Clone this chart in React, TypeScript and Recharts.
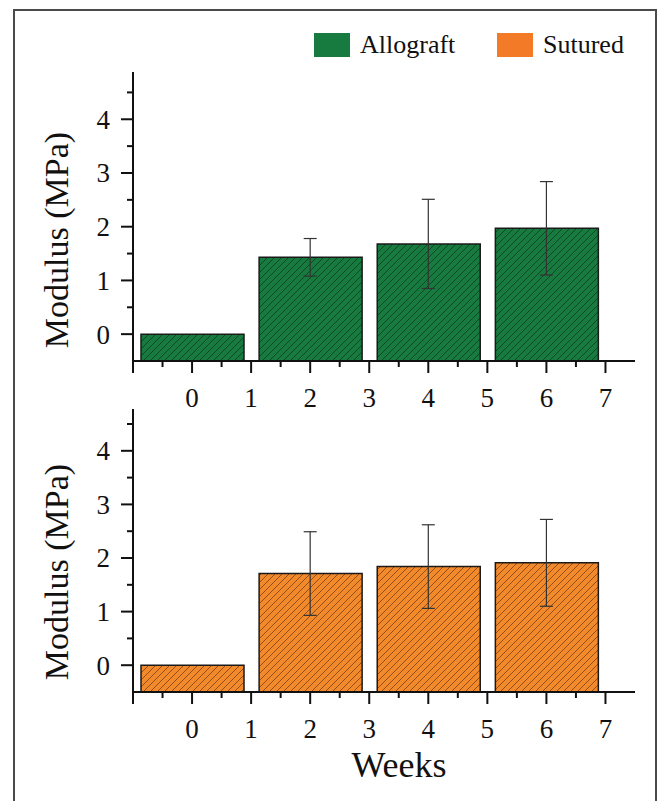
import React from "react";
import { ComposedChart, Bar, Scatter, ErrorBar, XAxis, YAxis } from "recharts";

const weeks = [0, 2, 4, 6];
const allograftMean = [0, 1.43, 1.68, 1.97];
const allograftSd = [0, 0.35, 0.83, 0.87];
const suturedMean = [0, 1.71, 1.84, 1.91];
const suturedSd = [0, 0.78, 0.78, 0.81];

const xTicks = [-1, -0.5, 0, 0.5, 1, 1.5, 2, 2.5, 3, 3.5, 4, 4.5, 5, 5.5, 6, 6.5, 7];
const xLabels = [0, 1, 2, 3, 4, 5, 6, 7];
const yTicks = [0, 0.5, 1, 1.5, 2, 2.5, 3, 3.5, 4, 4.5];
const yLabels = [0, 1, 2, 3, 4];

const Y_MIN = -0.5;
const FONT = "Liberation Serif";
const INK = "#111";

const buildRows = (mean: number[], sd: number[]) =>
  weeks.map((w, i) => ({ week: w, range: [Y_MIN, mean[i]], mean: mean[i], sd: sd[i] }));

const XTick = (props: any) => {
  const { x, y, payload } = props;
  const v = payload.value;
  const major = Number.isInteger(v);
  return (
    <g>
      <line x1={x} x2={x} y1={y} y2={y + (major ? 12 : 6)} stroke={INK} strokeWidth={2} />
      {xLabels.includes(v) && (
        <text x={x} y={y + 37} dy="0.35em" textAnchor="middle" fontSize={27} fontFamily={FONT} fill={INK}>
          {v}
        </text>
      )}
    </g>
  );
};

const YTick = (props: any) => {
  const { x, y, payload } = props;
  const v = payload.value;
  const major = Number.isInteger(v);
  return (
    <g>
      <line x1={x - (major ? 12 : 6)} x2={x} y1={y} y2={y} stroke={INK} strokeWidth={2} />
      {yLabels.includes(v) && (
        <text x={x - 23} y={y} dy="0.35em" textAnchor="end" fontSize={27} fontFamily={FONT} fill={INK}>
          {v}
        </text>
      )}
    </g>
  );
};

type PanelProps = {
  id: string;
  top: number;
  height: number;
  margin: { top: number; right: number; bottom: number; left: number };
  yMax: number;
  mean: number[];
  sd: number[];
  base: string;
  hatch: string;
  topLine: boolean;
};

const Panel = ({ id, top, height, margin, yMax, mean, sd, base, hatch, topLine }: PanelProps) => {
  const rows = buildRows(mean, sd);
  const errRows = rows.filter((r) => r.sd > 0);
  const axisLine = { stroke: INK, strokeWidth: 2 };
  return (
    <div style={{ position: "absolute", left: 0, top }}>
      <ComposedChart width={659} height={height} data={rows} margin={margin}>
        <defs>
          <pattern id={id} patternUnits="userSpaceOnUse" width={7} height={7}>
            <rect width={7} height={7} fill={base} />
            <path d="M0,7 L7,0 M-1,1 L1,-1 M6,8 L8,6" stroke={hatch} strokeWidth={0.8} />
          </pattern>
        </defs>
        <XAxis
          dataKey="week"
          type="number"
          domain={[-1, 7.5]}
          allowDataOverflow
          ticks={xTicks}
          interval={0}
          height={30}
          tickSize={0}
          tickMargin={0}
          tickLine={false}
          axisLine={axisLine}
          tick={(p: any) => <XTick {...p} />}
        />
        {topLine && (
          <XAxis
            xAxisId="top"
            orientation="top"
            type="number"
            domain={[-1, 7.5]}
            height={0}
            tick={false}
            tickLine={false}
            axisLine={axisLine}
          />
        )}
        <YAxis
          type="number"
          domain={[Y_MIN, yMax]}
          allowDataOverflow
          ticks={yTicks}
          interval={0}
          width={60}
          tickSize={0}
          tickMargin={0}
          tickLine={false}
          axisLine={axisLine}
          tick={(p: any) => <YTick {...p} />}
        />
        <YAxis
          yAxisId="right"
          orientation="right"
          type="number"
          domain={[Y_MIN, yMax]}
          width={0}
          tick={false}
          tickLine={false}
          axisLine={axisLine}
        />
        <Bar
          dataKey="range"
          barSize={103}
          fill={`url(#${id})`}
          stroke="#1a1a1a"
          strokeWidth={1.5}
          isAnimationActive={false}
        />
        <Scatter data={errRows} dataKey="mean" shape={() => <g />} isAnimationActive={false}>
          <ErrorBar dataKey="sd" direction="y" width={6.5} stroke="#333" strokeWidth={1.2} isAnimationActive={false} />
        </Scatter>
      </ComposedChart>
    </div>
  );
};

const text = (extra: React.CSSProperties): React.CSSProperties => ({
  position: "absolute",
  fontFamily: FONT,
  color: INK,
  whiteSpace: "nowrap",
  lineHeight: 1,
  ...extra,
});

export default function App() {
  return (
    <div style={{ position: "absolute", left: 0, top: 0, width: 659, height: 801, background: "#fff", overflow: "hidden" }}>
      <div
        style={{
          position: "absolute",
          left: 13,
          top: 9,
          width: 640,
          height: 800,
          borderLeft: "2px solid #4a4a4a",
          borderTop: "2px solid #4a4a4a",
          borderRight: "2px solid #4a4a4a",
        }}
      />
      <div style={{ position: "absolute", left: 314, top: 33, width: 36, height: 24, background: "#177a3e" }} />
      <div style={text({ left: 360, top: 45, fontSize: 26, transform: "translateY(-50%)" })}>Allograft</div>
      <div style={{ position: "absolute", left: 497, top: 33, width: 36, height: 24, background: "#f37b28" }} />
      <div style={text({ left: 543, top: 45, fontSize: 26, transform: "translateY(-50%)" })}>Sutured</div>

      <Panel
        id="hatchAllograft"
        top={0}
        height={420}
        margin={{ top: 72, right: 24, bottom: 29, left: 73 }}
        yMax={4.88}
        mean={allograftMean}
        sd={allograftSd}
        base="#177a3e"
        hatch="#0b3a1c"
        topLine
      />
      <Panel
        id="hatchSutured"
        top={380}
        height={421}
        margin={{ top: 29, right: 24, bottom: 79, left: 73 }}
        yMax={4.78}
        mean={suturedMean}
        sd={suturedSd}
        base="#f28a2c"
        hatch="#7a3f12"
        topLine={false}
      />

      <div style={text({ left: 57, top: 240, fontSize: 34, transform: "translate(-50%, -50%) rotate(-90deg)" })}>
        Modulus (MPa)
      </div>
      <div style={text({ left: 57, top: 572, fontSize: 34, transform: "translate(-50%, -50%) rotate(-90deg)" })}>
        Modulus (MPa)
      </div>
      <div style={text({ left: 399, top: 765, fontSize: 36, transform: "translate(-50%, -50%)" })}>Weeks</div>
    </div>
  );
}
